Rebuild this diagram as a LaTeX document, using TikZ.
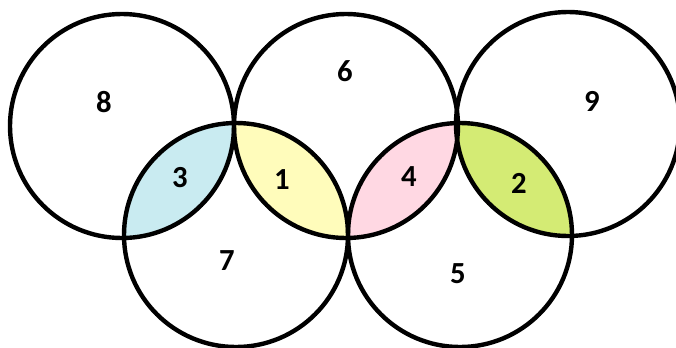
\documentclass[tikz,border=0pt]{standalone}
\usepackage{fontspec}
\setmainfont{Carlito}
\definecolor{lensblue}{HTML}{C9EBF1}
\definecolor{lensyellow}{HTML}{FFFCBB}
\definecolor{lenspink}{HTML}{FFD8E3}
\definecolor{lensgreen}{HTML}{D4EB74}
\begin{document}
\begin{tikzpicture}[
    x=0.75pt, y=-0.75pt,
    ring/.style={draw=black, line width=3.3pt},
    num/.style={font=\fontsize{23}{23}\selectfont\bfseries, inner sep=0pt}
]
\useasboundingbox (0,0) rectangle (676,347);
\coordinate (topl) at (122,126);
\coordinate (topm) at (346,126);
\coordinate (topr) at (568,124);
\coordinate (botl) at (236,235);
\coordinate (botr) at (460,235);

% coloured overlaps
\begin{scope}
  \clip (topl) circle (112);
  \fill[lensblue] (botl) circle (112);
\end{scope}
\begin{scope}
  \clip (topm) circle (112);
  \fill[lensyellow] (botl) circle (112);
\end{scope}
\begin{scope}
  \clip (topm) circle (112);
  \fill[lenspink] (botr) circle (112);
\end{scope}
\begin{scope}
  \clip (topr) circle (112);
  \fill[lensgreen] (botr) circle (112);
\end{scope}

% rings
\foreach \c in {topl, topm, topr, botl, botr}
  \draw[ring] (\c) circle (112);

% numbers
\node[num] (n8) at (104,102) {8};
\node[num] (n6) at (345,71) {6};
\node[num] (n9) at (592,101) {9};
\node[num] (n3) at (180,178) {3};
\node[num] (n1) at (282,180) {1};
\node[num] (n4) at (409,177) {4};
\node[num] (n2) at (519,183) {2};
\node[num] (n7) at (227,261) {7};
\node[num] (n5) at (458,274) {5};
\end{tikzpicture}
\end{document}
